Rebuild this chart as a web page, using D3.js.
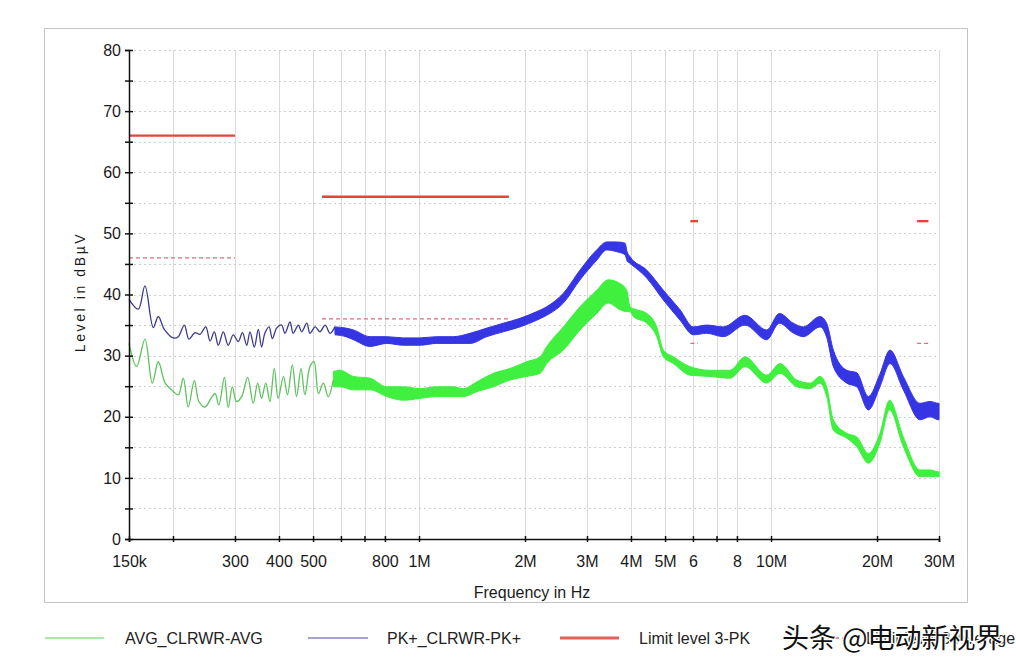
<!DOCTYPE html>
<html><head><meta charset="utf-8">
<script src="https://cdn.jsdelivr.net/npm/d3@7"></script>
<style>
html,body{margin:0;padding:0;background:#fff;}
svg{display:block;font-family:"Liberation Sans",Arial,sans-serif;}
</style></head><body>
<svg id="c" width="1016" height="660"></svg>
<script>
// ---- data (frequency in MHz, level in dBµV) ----
const xTickValues = [0.15,0.2,0.3,0.4,0.5,0.6,0.7,0.8,1,2,3,4,5,6,7,8,10,20,30];
const xTickLabels = ["150k","","300","400","500","","","800","1M","2M","3M","4M","5M","6","","8","10M","20M","30M"];
const yTickValues = [0,5,10,15,20,25,30,35,40,45,50,55,60,65,70,75,80];

// PK+ trace: thin low-frequency part
const pkThinFreq = [0.150,0.1594,0.1665,0.1758,0.1817,0.189,0.2004,0.207,0.2154,0.222,0.231,0.2387,0.2478,0.2549,0.2621,0.269,0.278,0.287,0.2967,0.3066,0.315,0.324,0.331,0.3405,0.3495,0.357,0.365,0.375,0.383,0.394,0.407,0.416,0.430,0.439,0.454,0.464,0.480,0.490,0.507,0.523,0.541,0.559,0.577];
const pkThinLevel = [39.2,37.6,41.4,34.6,36.4,34.3,32.9,33.1,35.0,32.7,33.75,33.5,34.7,32.4,33.9,31.7,33.9,31.7,33.4,32.3,33.75,31.7,33.9,31.4,34.3,31.4,33.7,34.7,32.8,34.5,35.0,33.65,35.5,33.65,35.0,33.9,35.3,33.65,34.7,33.9,35.0,33.65,34.7];
// PK+ trace: dense band (lower / upper envelope)
const pkBandFreq = [0.577,0.62,0.651,0.726,0.810,0.902,1.006,1.122,1.251,1.396,1.557,1.735,1.935,2.16,2.306,2.57,2.867,3.197,3.414,3.644,3.848,3.90,3.975,4.434,4.944,5.514,6.015,6.564,7.317,8.434,9.72,10.56,11.57,12.35,13.78,14.39,15.03,16.41,17.52,18.90,20.39,21.77,23.75,26.5,28.3,29.9,30];
const pkBandLo = [33.4,33.1,32.6,31.5,32.0,31.7,31.7,32.0,32.0,32.0,33.1,33.9,34.7,35.8,36.6,38.6,42.4,45.6,47.3,47.0,46.5,45.5,45.1,42.7,39.1,35.8,33.4,33.65,33.1,35.0,32.6,35.3,33.7,33.1,34.7,33.0,28.2,25.5,24.9,21.1,24.9,28.7,24.4,19.5,20.0,19.5,19.5];
const pkBandHi = [34.7,34.5,34.2,33.1,33.1,32.9,32.9,33.1,33.1,33.65,34.5,35.3,36.1,37.2,38.0,40.2,44.0,47.3,48.6,48.6,48.4,47.0,46.2,44.0,40.7,37.5,34.7,35.0,34.7,36.6,34.2,36.9,35.3,34.7,36.4,35.3,30.9,27.6,27.2,23.3,27.0,30.9,26.6,22.2,22.5,22.2,22.2];

// AVG trace: thin low-frequency part
const avgThinFreq = [0.150,0.1577,0.1665,0.1747,0.1817,0.190,0.1983,0.207,0.214,0.221,0.230,0.237,0.2466,0.2565,0.2634,0.270,0.280,0.287,0.295,0.303,0.3135,0.326,0.338,0.348,0.357,0.367,0.377,0.388,0.398,0.412,0.423,0.4365,0.449,0.462,0.474,0.490,0.503,0.518,0.535,0.552,0.571];
const avgThinLevel = [32.0,28.2,32.7,25.5,29.0,25.5,24.4,23.6,26.3,21.6,25.9,22.5,21.6,23.0,23.8,21.9,26.45,21.5,24.9,22.5,23.3,26.45,22.2,25.5,23.0,25.5,22.5,27.9,23.0,26.6,23.6,28.5,23.3,27.9,23.6,28.2,29.0,23.8,25.5,23.3,26.0];
// AVG trace: dense band
const avgBandFreq = [0.571,0.596,0.651,0.726,0.810,0.902,1.006,1.122,1.251,1.336,1.458,1.626,1.813,2.023,2.207,2.306,2.57,2.867,3.197,3.449,3.723,3.891,3.975,4.061,4.434,4.734,4.944,5.277,5.886,6.71,7.65,8.434,9.72,10.61,11.83,12.90,13.78,14.39,15.03,16.41,17.52,18.90,20.39,21.7,23.75,26.5,28.3,29.9,30];
const avgBandLo = [24.9,24.9,24.4,24.4,23.3,22.7,23.0,23.3,23.3,23.3,24.1,24.9,26.0,26.6,27.1,28.7,30.9,34.2,36.9,38.6,37.5,37.2,37.2,36.4,35.3,33.1,29.8,28.7,26.8,26.6,26.3,28.2,25.5,27.1,24.9,24.6,25.5,23.3,17.8,16.5,15.1,12.4,15.7,21.1,15.1,10.2,10.2,10.2,10.2];
const avgBandHi = [27.4,27.6,26.6,26.3,24.9,24.9,24.6,24.9,24.9,24.6,25.7,27.1,27.9,29.0,29.8,31.5,34.7,38.0,40.7,42.4,41.8,40.7,38.0,37.7,36.9,34.7,30.9,29.8,28.2,27.6,27.6,29.8,26.8,28.7,26.0,25.5,26.6,24.9,19.5,17.3,16.7,14.0,17.3,22.7,16.7,11.3,11.3,11.0,11.0];

// Limit lines (CISPR 25 class 3)
const limitStart = [0.15,0.53,5.9,26];
const limitEnd = [0.3,1.8,6.2,28];
const limitPk = [66,56,52,52];
const limitAvg = [46,36,32,32];

const legendNames = ["AVG_CLRWR-AVG","PK+_CLRWR-PK+","Limit level 3-PK","Limit level 3-Average"];

// ---- drawing ----
const svg = d3.select("#c");
const x = d3.scaleLog().domain([0.15,30]).range([129,939]);
const y = d3.scaleLinear().domain([0,80]).range([539,50]);

// outer frame
svg.append("rect").attr("x",44.5).attr("y",28.5).attr("width",923).attr("height",574)
  .attr("fill","none").attr("stroke","#c4c4c4").attr("stroke-width",1);

// grid
const grid = svg.append("g");
grid.selectAll("line.v").data(xTickValues.filter(v=>v>0.15)).join("line")
  .attr("x1",d=>Math.round(x(d))+0.5).attr("x2",d=>Math.round(x(d))+0.5)
  .attr("y1",y(80)).attr("y2",y(0)).attr("stroke","#dadada").attr("stroke-width",1);
grid.selectAll("line.h").data(yTickValues.filter(v=>v>0)).join("line")
  .attr("x1",x(0.15)).attr("x2",x(30))
  .attr("y1",d=>Math.round(y(d))+0.5).attr("y2",d=>Math.round(y(d))+0.5)
  .attr("stroke","#cfcfcf").attr("stroke-width",1).attr("stroke-dasharray","2,3");

// limits
const lim = svg.append("g");
limitStart.forEach((s,i)=>{
  lim.append("line").attr("x1",x(s)).attr("x2",x(limitEnd[i]))
    .attr("y1",y(limitPk[i])).attr("y2",y(limitPk[i]))
    .attr("stroke","#e5443a").attr("stroke-width",2.4);
  lim.append("line").attr("x1",x(s)).attr("x2",x(limitEnd[i]))
    .attr("y1",y(limitAvg[i])).attr("y2",y(limitAvg[i]))
    .attr("stroke","#d8707c").attr("stroke-width",1.2).attr("stroke-dasharray","4,3");
});

// traces
function band(freq, lo, hi){ return freq.map((f,i)=>({f, lo:lo[i], hi:hi[i]})); }
function thin(freq, lv){ return freq.map((f,i)=>({f, v:lv[i]})); }
const area = d3.area().x(d=>x(d.f)).y0(d=>y(d.lo)).y1(d=>y(d.hi)).curve(d3.curveMonotoneX);
const line = d3.line().x(d=>x(d.f)).y(d=>y(d.v)).curve(d3.curveCatmullRom.alpha(0.5));

svg.append("path").datum(band(avgBandFreq,avgBandLo,avgBandHi)).attr("d",area)
  .attr("fill","#3ff03f").attr("stroke","#3ff03f").attr("stroke-width",1);
svg.append("path").datum(thin(avgThinFreq,avgThinLevel)).attr("d",line)
  .attr("fill","none").attr("stroke","#5cc25c").attr("stroke-width",1.3);
svg.append("path").datum(band(pkBandFreq,pkBandLo,pkBandHi)).attr("d",area)
  .attr("fill","#3535e4").attr("stroke","#3535e4").attr("stroke-width",1);
svg.append("path").datum(thin(pkThinFreq,pkThinLevel)).attr("d",line)
  .attr("fill","none").attr("stroke","#3a3a90").attr("stroke-width",1.3);

// axes
const xAxis = d3.axisBottom(x).tickValues(xTickValues)
  .tickFormat((d,i)=>xTickLabels[i]).tickSize(3).tickPadding(14);
const gx = svg.append("g").attr("transform",`translate(0,${y(0)})`).call(xAxis);
gx.select(".domain").attr("stroke","#111").attr("stroke-width",1.5);
gx.selectAll(".tick line").attr("y1",-3).attr("y2",3).attr("stroke","#111").attr("stroke-width",1.5);
gx.selectAll(".tick text").attr("font-size",16).attr("fill","#1a1a1a")
  .attr("font-family","'Liberation Sans',Arial,sans-serif");

const yAxis = d3.axisLeft(y).tickValues(yTickValues)
  .tickFormat(d=>d%10===0?d:"").tickSize(4).tickPadding(4);
const gy = svg.append("g").attr("transform",`translate(${x(0.15)},0)`).call(yAxis);
gy.select(".domain").attr("stroke","#111").attr("stroke-width",1.5);
gy.selectAll(".tick line").attr("x1",-4).attr("x2",4).attr("stroke","#111").attr("stroke-width",1.5);
gy.selectAll(".tick text").attr("font-size",16).attr("fill","#1a1a1a")
  .attr("font-family","'Liberation Sans',Arial,sans-serif");

// axis titles
svg.append("text").attr("x",532).attr("y",598).attr("text-anchor","middle")
  .attr("font-size",16).attr("fill","#1a1a1a").text("Frequency in Hz");
svg.append("text").attr("transform","translate(85,292) rotate(-90)").attr("text-anchor","middle")
  .attr("font-size",14).attr("letter-spacing",2.6).attr("fill","#1a1a1a").text("Level in dBµV");

// legend
const legY = 638;
const legItems = [
  {x1:45,x2:104,tx:125,color:"#8fe08f",w:1.3,dash:null},
  {x1:308,x2:368,tx:387,color:"#8585c4",w:1.3,dash:null},
  {x1:560,x2:619,tx:639,color:"#e5605a",w:3,dash:null},
  {x1:800,x2:858,tx:866,color:"#d8707c",w:1.3,dash:"4,3"}
];
legItems.forEach((it,i)=>{
  svg.append("line").attr("x1",it.x1).attr("x2",it.x2).attr("y1",legY).attr("y2",legY)
    .attr("stroke",it.color).attr("stroke-width",it.w).attr("stroke-dasharray",it.dash);
  svg.append("text").attr("x",it.tx).attr("y",legY+6).attr("font-size",16).attr("fill","#222")
    .text(legendNames[i]);
});

// watermark
svg.append("text").attr("x",782).attr("y",648)
  .attr("font-family","'Noto Sans CJK SC',sans-serif").attr("font-size",27)
  .attr("fill","#111").attr("stroke","#fff").attr("stroke-width",2.5)
  .attr("paint-order","stroke").text("头条 @电动新视界");
</script>
</body></html>
